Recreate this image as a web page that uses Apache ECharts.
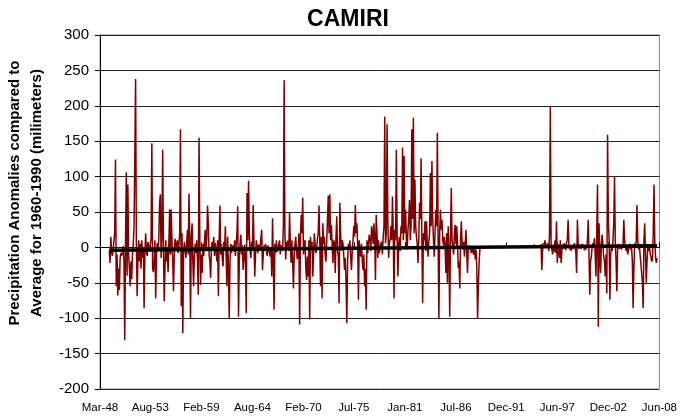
<!DOCTYPE html>
<html>
<head>
<meta charset="utf-8">
<script src="https://cdn.jsdelivr.net/npm/echarts@6/dist/echarts.min.js"></script>
<style>
  html, body { margin: 0; padding: 0; background: #fff; }
  #chart { width: 680px; height: 420px; }
</style>
</head>
<body>
<div id="chart"></div>
<script>
// monthly precipitation anomalies (mm), starting Mar-1948, one year per line
var anom1948_1959 = [
  null, null, null, null, null, null, null, null, null, null,
  null, null, -5, -22, 15, -8, -12, -3, 10, 20, 124, -55,
  -10, -68, -30, -60, -15, -8, -12, -5, 2, -20, -131, 10,
  106, -40, 89, -10, -30, -55, -20, -45, -8, 5, 30, 131,
  238, 5, -69, -15, 10, -20, 5, -30, 10, -15, 0, -86,
  -10, 20, -5, -12, 8, 0, -6, 4, 12, 147, -30, -35,
  -20, 10, -72, -10, 6, -5, 12, 63, 75, -15, 20, 138,
  0, -76, -30, 10, -20, -5, -35, 5, 54, -10, 53, 8,
  -20, -62, -10, 12, 5, -2, 10, -8, 4, 20, 167, -83,
  20, -121, -10, 8, 0, -15, 5, 25, -10, 76, 10, -100,
  15, 34, -20, -55, -10, 5, -8, 10, -20, -67, 155, 10,
  -53, -10, -36, 5, -12, 8, 25, -5, 12, 59, 34, -10
];
var anom1960_1969 = [
  -20, -43, 0, 8, -5, 15, -12, 6, -3, -20, 10, -69,
  10, 59, -10, 5, -15, -27, 8, -5, 30, -10, -55, 15,
  -30, -100, -20, 5, -8, 3, 0, -6, 10, -12, 5, 20,
  58, -98, -20, 5, 18, -10, 3, -32, -15, 4, -20, -93,
  77, 10, 94, 20, -6, -15, 8, -4, 60, 5, -41, -10,
  10, 1, -8, 4, -5, 2, 13, 25, -32, -10, 3, -5,
  5, 6, -12, 3, -3, -8, -13, 0, -41, 41, -20, -88,
  5, -8, 10, -6, -3, 4, 10, -10, 3, -2, -5, 30,
  236, 20, -17, 8, 0, 10, -5, 49, 5, -22, 10, -20,
  -58, -10, 5, 15, -5, -17, -10, 20, -109, 10, 46, 20
];
var anom1970_1979 = [
  70, -10, 6, 10, -30, -46, -13, -41, 10, -102, 15, -3,
  8, -41, -10, 20, 5, -8, -3, 12, 20, 59, 10, -55,
  15, -72, 34, 5, 15, -10, -20, 8, 40, 73, 20, 75,
  10, 32, 5, -22, 10, 6, -36, 15, 44, -5, -13, -79,
  63, 20, -5, 10, 6, -10, -32, -15, -50, -107, -20, 5,
  -3, 10, -15, -32, -5, 10, 30, 15, 60, 20, 34, 5,
  -74, 10, -5, -13, 5, -20, -32, -10, -55, -30, -88, 10,
  -8, 5, 18, 10, -5, 30, 20, 5, 34, 15, -46, 46,
  20, -15, 10, -8, -6, 5, 8, -10, 15, 30, 185, 6,
  20, 174, 39, -15, 6, 12, 30, 10, 72, 20, -72, 25
];
var anom1980_1989 = [
  10, 138, 20, -41, 5, 15, -5, 30, 20, 141, 10, 129,
  20, 53, 10, -3, 25, 40, 67, 10, 30, 167, 40, 183,
  20, 96, 30, 15, 5, -22, 10, 63, 40, 126, 10, -79,
  20, 10, 37, -5, 37, 5, -13, 8, 20, 105, 30, 122,
  40, 10, -13, 20, 53, 30, 162, 10, -100, 20, 53, 25,
  39, 10, 3, 15, 1, -36, 20, -50, 30, -10, -98, 20,
  84, 10, 1, -10, 20, 32, 5, 30, 10, -29, -20, -58,
  10, 37, 5, -3, 8, -13, 5, 25, -10, -36, 3, -3,
  2, -3, -8, 2, -6, -10, 0, -17, -3, -30, -100, -55,
  -20, -3, 0, null, null, null, null, null, null, null, null, null
];
var anom1990_1999 = [
  null, null, null, null, null, null, null, null, null, null, null, null,
  null, null, null, null, null, null, null, null, null, null, null, null,
  null, null, null, null, null, null, null, null, null, null, null, null,
  null, null, null, null, null, null, null, null, null, null, null, null,
  null, null, null, null, null, null, null, null, null, null, 0, 3,
  4, null, null, null, null, null, null, null, 5, -32, -5, 6,
  2, 10, 5, -1, 3, 6, -5, 20, 200, 5, -3, -10,
  4, -6, 10, -8, 37, -22, 5, -6, -15, 10, -22, -3,
  4, -2, 6, 2, -4, 6, 12, 39, 4, -3, 2, -5,
  1, 3, -2, 6, 2, -8, -36, 39, 5, -2, 1, 4
];
var anom2000_2008 = [
  -2, 5, 6, 2, -4, 1, -3, 2, 10, 39, -10, -67,
  -20, -13, 0, 6, 2, 13, -10, -41, 20, 89, -112, 34,
  -10, -36, 5, 18, 3, -13, -20, -41, -10, -65, 159, 37,
  10, -74, -10, 1, -5, 10, 34, 100, 5, -20, -62, 1,
  5, -2, 3, 1, -3, 2, 5, 39, 10, 1, -5, 2,
  -10, -4, 2, 5, -3, 1, -20, -86, -30, 6, 3, 8,
  60, 10, -3, 5, -10, -22, -36, -50, -86, 10, 34, -10,
  -50, -20, 1, -5, 4, -8, -13, -20, -17, 20, 89, 10,
  -13, -22, -15, null, null, null
];

// linear trend, value at first and last month with data
var trendEnds = [-4, 2.5];

var tickLabels = ['Mar-48', 'Aug-53', 'Feb-59', 'Aug-64', 'Feb-70', 'Jul-75',
  'Jan-81', 'Jul-86', 'Dec-91', 'Jun-97', 'Dec-02', 'Jun-08'];

var monthNames = ['Jan', 'Feb', 'Mar', 'Apr', 'May', 'Jun', 'Jul', 'Aug', 'Sep', 'Oct', 'Nov', 'Dec'];

var anomalies = [].concat(anom1948_1959, anom1960_1969, anom1970_1979,
  anom1980_1989, anom1990_1999, anom2000_2008);

// month categories from Mar-48
var categories = [];
for (var i = 0; i < anomalies.length; i++) {
  var m = (2 + i) % 12;
  var y = 1948 + Math.floor((2 + i) / 12);
  categories.push(monthNames[m] + '-' + String(y % 100).padStart(2, '0'));
}

var firstIdx = anomalies.findIndex(function (v) { return v !== null; });
var lastIdx = anomalies.length - 1;
while (anomalies[lastIdx] === null) lastIdx--;

var showTick = function (idx, val) { return tickLabels.indexOf(val) >= 0; };

var font = '"Liberation Sans", Arial, sans-serif';

var chart = echarts.init(document.getElementById('chart'));
chart.setOption({
  animation: false,
  backgroundColor: '#fff',
  title: {
    text: 'CAMIRI',
    left: 343,
    textAlign: 'center',
    top: 3,
    textStyle: { fontFamily: font, fontWeight: 'bold', fontSize: 23, color: '#000' }
  },
  grid: {
    left: 100, right: 17, top: 35, bottom: 31,
    show: true, borderColor: '#888', borderWidth: 1
  },
  xAxis: {
    type: 'category',
    data: categories,
    boundaryGap: false,
    axisLine: { lineStyle: { color: '#000', width: 1 } },
    axisTick: { inside: true, length: 5, interval: showTick, lineStyle: { color: '#000' } },
    axisLabel: { interval: showTick, fontFamily: font, fontSize: 11.5, color: '#000', margin: 13 },
    splitLine: { show: false }
  },
  yAxis: {
    type: 'value',
    min: -200, max: 300, interval: 50,
    axisLine: { show: true, lineStyle: { color: '#000', width: 1 } },
    axisTick: { show: true, length: 5, lineStyle: { color: '#000' } },
    axisLabel: { fontFamily: font, fontSize: 15, color: '#000', margin: 11 },
    splitLine: { show: true, lineStyle: { color: '#222', width: 1 } }
  },
  graphic: [{
    type: 'text',
    x: 26, y: 193,
    rotation: Math.PI / 2,
    style: {
      text: 'Precipitation Anomalies compared to\nAverage for 1960-1990 (milimeters)',
      font: 'bold 15px ' + font,
      fill: '#000',
      textAlign: 'center',
      textVerticalAlign: 'middle',
      lineHeight: 22
    }
  }],
  series: [
    {
      type: 'line',
      data: anomalies,
      showSymbol: false,
      symbol: 'none',
      lineStyle: { color: '#800000', width: 1.5 },
      z: 2
    },
    {
      type: 'line',
      data: [[firstIdx, trendEnds[0]], [lastIdx, trendEnds[1]]],
      showSymbol: false,
      symbol: 'none',
      lineStyle: { color: '#000', width: 3.5 },
      z: 3
    }
  ]
});
</script>
</body>
</html>
